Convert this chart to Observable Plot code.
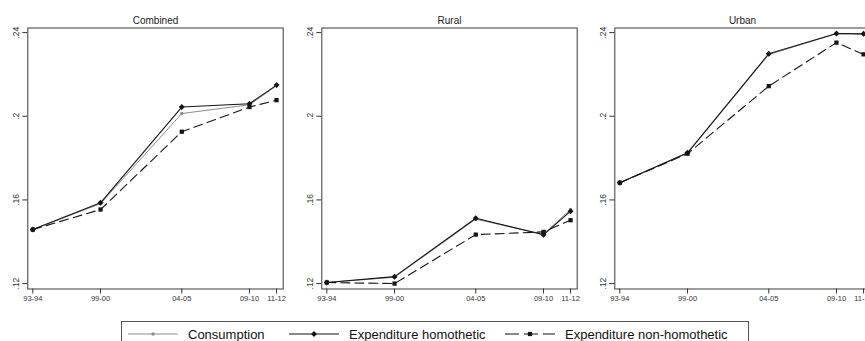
<!DOCTYPE html>
<html>
<head>
<meta charset="utf-8">
<script src="https://cdn.jsdelivr.net/npm/d3@7"></script>
<script src="https://cdn.jsdelivr.net/npm/@observablehq/plot@0.6"></script>
<style>
  body { margin: 0; background: #fff; font-family: "Liberation Sans", Arial, sans-serif; }
  #chart { position: relative; width: 865px; height: 341px; overflow: hidden; background: #fff; }
  .panel { position: absolute; top: 0; width: 300px; }
  #legend { position: absolute; left: 121px; top: 321px; width: 628px; height: 30px;
            border: 1px solid #555; box-sizing: border-box; }
  .item { position: absolute; top: 4px; height: 16px; display: flex; align-items: center;
          font-size: 13px; color: #111; white-space: nowrap; }
  .item svg { margin-right: 10px; }
</style>
</head>
<body>
<div id="chart"><div id="legend"></div></div>
<script>
// NSS survey rounds on the x axis, labelled by survey year
const rounds = [50, 55, 61, 66, 68];
const roundLabels = ["93-94", "99-00", "04-05", "09-10", "11-12"];
const yTicks = [0.12, 0.16, 0.20, 0.24];

const panels = ["Combined", "Rural", "Urban"];
const seriesNames = ["Consumption", "Expenditure homothetic", "Expenditure non-homothetic"];

// Inequality estimates per panel and series
const combinedConsumption = [0.1458, 0.1582, 0.2013, 0.2055, 0.2146];
const combinedHomothetic  = [0.1458, 0.1586, 0.2044, 0.2060, 0.2149];
const combinedNonHomothetic = [0.1458, 0.1554, 0.1926, 0.2044, 0.2077];

const ruralConsumption = [0.1205, 0.1230, 0.1508, 0.1436, 0.1554];
const ruralHomothetic  = [0.1205, 0.1233, 0.1512, 0.1433, 0.1546];
const ruralNonHomothetic = [0.1205, 0.1200, 0.1434, 0.1447, 0.1503];

const urbanConsumption = [0.1682, 0.1823, 0.2295, 0.2395, 0.2393];
const urbanHomothetic  = [0.1682, 0.1825, 0.2299, 0.2396, 0.2394];
const urbanNonHomothetic = [0.1682, 0.1821, 0.2144, 0.2352, 0.2296];

const panelSeries = {
  Combined: [combinedConsumption, combinedHomothetic, combinedNonHomothetic],
  Rural: [ruralConsumption, ruralHomothetic, ruralNonHomothetic],
  Urban: [urbanConsumption, urbanHomothetic, urbanNonHomothetic]
};

// Series styles
const styles = [
  {stroke: "#8c8c8c", width: 1, dash: null, symbol: "circle", r: 1.7},
  {stroke: "#141414", width: 1.1, dash: null, symbol: "diamond2", r: 2.7},
  {stroke: "#141414", width: 1.1, dash: "9,5", symbol: "square", r: 2.4}
];

const yFormat = d => d3.format(".2~f")(d).replace(/^0/, "");
const xFormat = d => roundLabels[rounds.indexOf(d)];

const chart = document.getElementById("chart");
const panelStep = 293.5;

panels.forEach((name, p) => {
  const rows = [];
  panelSeries[name].forEach((vals, s) => {
    vals.forEach((v, i) => rows.push({series: s, round: rounds[i], value: v}));
  });

  const seriesMarks = styles.flatMap((st, s) => {
    const d = rows.filter(r => r.series === s);
    return [
      Plot.line(d, {x: "round", y: "value", stroke: st.stroke, strokeWidth: st.width,
                    strokeDasharray: st.dash ?? undefined}),
      Plot.dot(d, {x: "round", y: "value", symbol: () => st.symbol, r: st.r,
                   fill: st.stroke, stroke: "none"})
    ];
  });

  const svg = Plot.plot({
    width: 300,
    height: 312,
    marginLeft: 27.3,
    marginRight: 17.3,
    marginTop: 27.5,
    marginBottom: 23.5,
    style: {fontFamily: "'Liberation Sans', Arial, sans-serif", color: "#333",
            maxWidth: "none", overflow: "visible", background: "transparent"},
    x: {domain: [49.63, 68.49], label: null},
    y: {domain: [0.1174, 0.2422], label: null},
    symbol: {type: "identity"},
    marks: [
      Plot.axisX({ticks: rounds, tickFormat: xFormat, tickSize: 5, tickPadding: 2,
                  fontSize: 7.5, label: null, stroke: "#333"}),
      Plot.axisY({ticks: yTicks, tickFormat: yFormat, tickSize: 5, tickRotate: -90,
                  fontSize: 8.5, label: null, stroke: "#333"}),
      ...seriesMarks,
      Plot.frame({stroke: "#3a3a3a", strokeWidth: 1}),
      Plot.text([name], {text: d => d, frameAnchor: "top", lineAnchor: "bottom",
                         dy: -4, fontSize: 10, fill: "#222"})
    ]
  });

  const div = document.createElement("div");
  div.className = "panel";
  div.style.left = (p * panelStep) + "px";
  div.appendChild(svg);
  chart.insertBefore(div, document.getElementById("legend"));
});

// Legend
const legend = document.getElementById("legend");
const legendPos = [6, 167, 383];
seriesNames.forEach((label, s) => {
  const st = styles[s];
  const item = document.createElement("div");
  item.className = "item";
  item.style.left = legendPos[s] + "px";
  const sw = d3.create("svg").attr("width", 50).attr("height", 12);
  sw.append("line").attr("x1", 0).attr("x2", 50).attr("y1", 6).attr("y2", 6)
    .attr("stroke", st.stroke).attr("stroke-width", st.width)
    .attr("stroke-dasharray", st.dash ? "14,5" : null)
    .attr("stroke-dashoffset", st.dash ? 0 : null);
  const sym = Plot.scale({symbol: {domain: [st.symbol], range: [st.symbol], type: "ordinal"}});
  const shape = st.symbol === "circle" ? d3.symbolCircle : st.symbol === "square" ? d3.symbolSquare : d3.symbolDiamond2;
  sw.append("path").attr("transform", "translate(25,6)")
    .attr("d", d3.symbol(shape, Math.PI * st.r * st.r)())
    .attr("fill", st.stroke);
  item.appendChild(sw.node());
  const t = document.createElement("span");
  t.textContent = label;
  item.appendChild(t);
  legend.appendChild(item);
});
</script>
</body>
</html>
